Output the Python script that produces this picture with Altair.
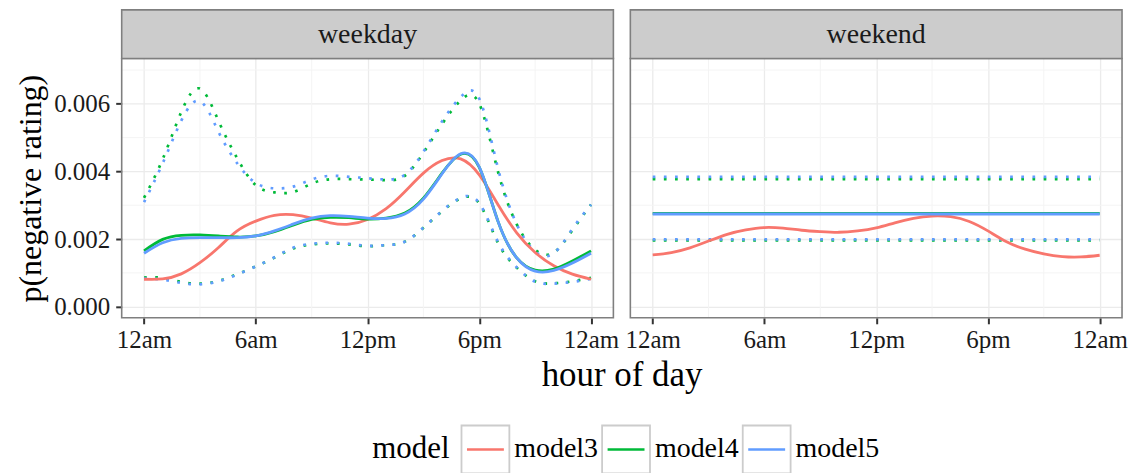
import altair as alt
import pandas as pd

# ---------------- data ----------------
models = ["model3", "model4", "model5"]
model_colors = ["#F8766D", "#00BA38", "#619CFF"]

hours = list(range(25))

# weekday (hourly)
wd_model3 = [0.00081, 0.00082, 0.00097, 0.00130, 0.00175, 0.00224, 0.00253, 0.00270, 0.00272,
             0.00262, 0.00248, 0.00244, 0.00258, 0.00290, 0.00340, 0.00395, 0.00432, 0.00437,
             0.00390, 0.00302, 0.00219, 0.00160, 0.00121, 0.00096, 0.00081]
wd_model4 = [0.00165, 0.00199, 0.00211, 0.00212, 0.00209, 0.00206, 0.00209, 0.00222, 0.00241,
             0.00258, 0.00264, 0.00263, 0.00259, 0.00262, 0.00277, 0.00321, 0.00395, 0.00451,
             0.00412, 0.00253, 0.00145, 0.00108, 0.00111, 0.00135, 0.00165]
wd_model5 = [0.00158, 0.00189, 0.00202, 0.00204, 0.00204, 0.00204, 0.00209, 0.00224, 0.00244,
             0.00262, 0.00269, 0.00267, 0.00262, 0.00261, 0.00274, 0.00318, 0.00393, 0.00452,
             0.00413, 0.00253, 0.00145, 0.00105, 0.00107, 0.00129, 0.00158]
wd_model4_upper = [0.00322, 0.00436, 0.00576, 0.00645, 0.00549, 0.00439, 0.00359, 0.00338, 0.00339,
                   0.00364, 0.00377, 0.00377, 0.00376, 0.00374, 0.00387, 0.00455, 0.00540, 0.00610,
                   0.00600, 0.00400, 0.00245, 0.00168, 0.00160, 0.00226, 0.00302]
wd_model5_upper = [0.00309, 0.00424, 0.00550, 0.00608, 0.00517, 0.00424, 0.00366, 0.00350, 0.00355,
                   0.00376, 0.00387, 0.00384, 0.00380, 0.00376, 0.00390, 0.00458, 0.00548, 0.00620,
                   0.00615, 0.00410, 0.00245, 0.00163, 0.00158, 0.00230, 0.00302]
wd_model4_lower = [0.00086, 0.00085, 0.00073, 0.00068, 0.00076, 0.00096, 0.00119, 0.00145, 0.00172,
                   0.00184, 0.00187, 0.00184, 0.00179, 0.00182, 0.00192, 0.00233, 0.00282, 0.00320,
                   0.00305, 0.00189, 0.00116, 0.00075, 0.00069, 0.00075, 0.00085]
wd_model5_lower = [0.00083, 0.00080, 0.00070, 0.00066, 0.00075, 0.00095, 0.00119, 0.00146, 0.00174,
                   0.00186, 0.00189, 0.00186, 0.00180, 0.00182, 0.00192, 0.00234, 0.00283, 0.00322,
                   0.00306, 0.00192, 0.00117, 0.00074, 0.00068, 0.00073, 0.00082]

# weekend
we_model3 = [0.00153, 0.00160, 0.00174, 0.00194, 0.00214, 0.00227, 0.00234, 0.00232, 0.00226,
             0.00222, 0.00220, 0.00224, 0.00233, 0.00248, 0.00261, 0.00268, 0.00266, 0.00252,
             0.00224, 0.00192, 0.00170, 0.00156, 0.00148, 0.00147, 0.00152]
hours_flat = [0, 24]
we_model4 = [0.00276, 0.00276]
we_model5 = [0.00274, 0.00274]
we_model4_upper = [0.00377, 0.00377]
we_model5_upper = [0.00384, 0.00384]
we_model4_lower = [0.00196, 0.00196]
we_model5_lower = [0.00199, 0.00199]

hour_ticks = [0, 6, 12, 18, 24]
hour_labels = ["12am", "6am", "12pm", "6pm", "12am"]
value_ticks = [0.0, 0.002, 0.004, 0.006]
minor_hours = [3, 9, 15, 21]
minor_values = [0.001, 0.003, 0.005, 0.007]

# ---------------- table ----------------
rows = []
def add(period, model, kind, xs, ys):
    for h, v in zip(xs, ys):
        rows.append({"period": period, "model": model, "kind": kind,
                     "series": f"{model}_{kind}", "hour": h, "value": v})

add("weekday", "model3", "mean", hours, wd_model3)
add("weekday", "model4", "mean", hours, wd_model4)
add("weekday", "model5", "mean", hours, wd_model5)
add("weekday", "model4", "upper", hours, wd_model4_upper)
add("weekday", "model5", "upper", hours, wd_model5_upper)
add("weekday", "model4", "lower", hours, wd_model4_lower)
add("weekday", "model5", "lower", hours, wd_model5_lower)
add("weekend", "model3", "mean", hours, we_model3)
add("weekend", "model4", "mean", hours_flat, we_model4)
add("weekend", "model5", "mean", hours_flat, we_model5)
add("weekend", "model4", "upper", hours_flat, we_model4_upper)
add("weekend", "model5", "upper", hours_flat, we_model5_upper)
add("weekend", "model4", "lower", hours_flat, we_model4_lower)
add("weekend", "model5", "lower", hours_flat, we_model5_lower)
df = pd.DataFrame(rows)

minor_x_df = pd.DataFrame({"hour": minor_hours})
minor_y_df = pd.DataFrame({"value": minor_values})

# ---------------- style ----------------
FONT = "'Liberation Serif', 'DejaVu Serif', serif"
W, H = 493, 260
STRIP_H = 48.7

label_expr = ""
for t, l in zip(hour_ticks, hour_labels):
    label_expr += f"datum.value == {t} ? '{l}' : "
label_expr += "''"

xscale = alt.Scale(domain=[-1.2, 25.2], nice=False, zero=False)
yscale = alt.Scale(domain=[-0.00033, 0.00734], nice=False, zero=False)
cscale = alt.Scale(domain=models, range=model_colors)

xaxis = alt.Axis(values=hour_ticks, labelExpr=label_expr, title=None, grid=True,
                 gridColor="#EBEBEB", gridWidth=1.3, domain=False, tickColor="#333333",
                 tickWidth=2, tickSize=6, labelPadding=4, labelFont=FONT, labelFontSize=25,
                 labelColor="#1A1A1A", labelOverlap=False, labelFlush=False, labelBound=False)


def yaxis(show):
    if show:
        return alt.Axis(values=value_ticks, format=".3f", title="p(negative rating)", grid=True,
                        gridColor="#EBEBEB", gridWidth=1.3, domain=False, tickColor="#333333",
                        tickWidth=2, tickSize=6, labelPadding=6, labelFont=FONT, labelFontSize=25,
                        labelColor="#1A1A1A", titleFont=FONT, titleFontSize=32,
                        titleFontWeight="normal", titleColor="#000000", titlePadding=6)
    return alt.Axis(values=value_ticks, title=None, grid=True, gridColor="#EBEBEB", gridWidth=1.3,
                    domain=False, ticks=False, labels=False)


def panel(period, show_y):
    d = df[df["period"] == period]
    xenc = alt.X("hour:Q", scale=xscale, axis=xaxis)
    yenc = alt.Y("value:Q", scale=yscale, axis=yaxis(show_y))
    cenc = alt.Color("model:N", scale=cscale, legend=None)
    strip_df = pd.DataFrame({"label": [period]})

    minor_v = alt.Chart(minor_x_df).mark_rule(color="#F4F4F4", strokeWidth=1).encode(x=xenc)
    minor_h = alt.Chart(minor_y_df).mark_rule(color="#F4F4F4", strokeWidth=1).encode(y=yenc)
    bounds = alt.Chart(d[d["kind"] != "mean"]).mark_line(
        strokeWidth=2.7, strokeDash=[2.7, 8.5], interpolate="natural"
    ).encode(x=xenc, y=yenc, color=cenc, detail="series:N", order="hour:Q")
    means = alt.Chart(d[d["kind"] == "mean"]).mark_line(
        strokeWidth=2.8, interpolate="natural"
    ).encode(x=xenc, y=yenc, color=cenc, detail="series:N", order="hour:Q")
    border = alt.Chart(strip_df).mark_rect(fillOpacity=0, stroke="#7F7F7F", strokeWidth=1.6).encode(
        x=alt.value(0), x2=alt.value(W), y=alt.value(0), y2=alt.value(H))
    strip = alt.Chart(strip_df).mark_rect(fill="#CCCCCC", stroke="#7F7F7F", strokeWidth=1.6).encode(
        x=alt.value(0), x2=alt.value(W), y=alt.value(-STRIP_H), y2=alt.value(0))
    strip_text = alt.Chart(strip_df).mark_text(
        font=FONT, fontSize=28, color="#1A1A1A", baseline="middle", align="center"
    ).encode(x=alt.value(W / 2), y=alt.value(-STRIP_H / 2 + 1), text="label:N")
    return alt.layer(minor_v, minor_h, bounds, means, border, strip, strip_text).properties(
        width=W, height=H)


top = alt.hconcat(panel("weekday", True), panel("weekend", False), spacing=17, bounds="flush")

# ---------------- legend / x title ----------------
LX0 = 121.3  # page x of the legend chart origin (aligned with the left plot area)
leg_df = pd.DataFrame({"model": models})
lx = alt.X("model:N", scale=alt.Scale(type="point", domain=models,
                                      range=[486 - LX0, 768 - LX0], padding=0), axis=None)
LEG_Y = 97
boxes = alt.Chart(leg_df).mark_point(shape="square", size=2304, filled=True, fill="white",
                                     stroke="#CCCCCC", strokeWidth=1.8, opacity=1).encode(
    x=lx, y=alt.value(LEG_Y))
keys = alt.Chart(leg_df).mark_point(shape="stroke", size=1369, strokeWidth=2.6, filled=False,
                                    opacity=1).encode(
    x=lx, y=alt.value(LEG_Y), color=alt.Color("model:N", scale=cscale, legend=None))
labels = alt.Chart(leg_df).mark_text(font=FONT, fontSize=28, align="left", baseline="middle",
                                     dx=29, color="#000000").encode(
    x=lx, y=alt.value(LEG_Y), text="model:N")
title_df = pd.DataFrame({"t": ["model"]})
leg_title = alt.Chart(title_df).mark_text(font=FONT, fontSize=31, align="right", baseline="middle",
                                          color="#000000").encode(
    x=alt.value(450 - LX0), y=alt.value(LEG_Y), text="t:N")
xt_df = pd.DataFrame({"t": ["hour of day"]})
x_title = alt.Chart(xt_df).mark_text(font=FONT, fontSize=35, align="center",
                                     baseline="alphabetic", color="#000000").encode(
    x=alt.value(623 - LX0), y=alt.value(33), text="t:N")

bottom = alt.layer(x_title, boxes, keys, labels, leg_title).properties(width=1000, height=121)

chart = alt.vconcat(top, bottom, spacing=0).configure(
    font=FONT, padding={"left": 6, "top": 0, "right": 5, "bottom": 0}
).configure_view(stroke="transparent", strokeWidth=0)

chart.save("out.html", embed_options={"renderer": "svg", "actions": False})
